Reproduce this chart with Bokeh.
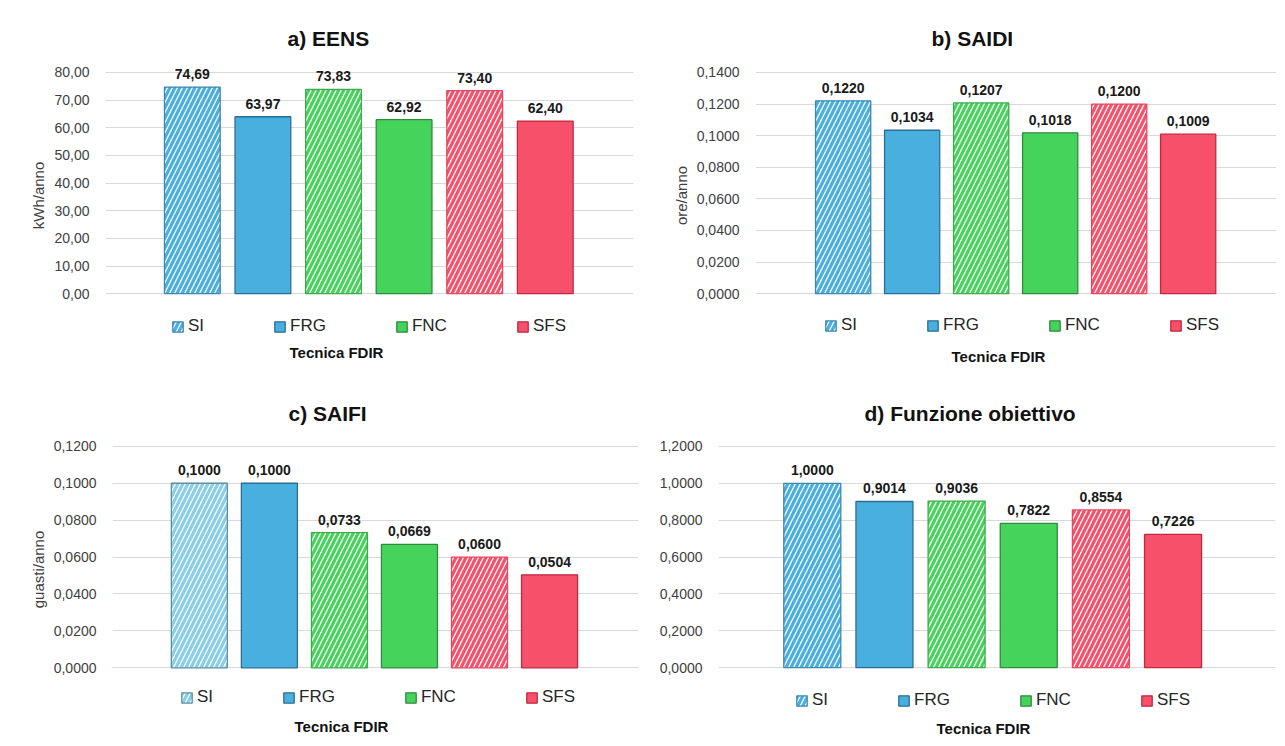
from bokeh.plotting import figure
from bokeh.models import (ColumnDataSource, FixedTicker, CustomJSTickFormatter,
                          Legend, LegendItem, Title, Range1d)
from bokeh.layouts import column, row
from bokeh.embed import file_html
from bokeh.resources import INLINE
from bokeh.core.properties import value

# ---------------- data ----------------
bar_names = ["SI", "FRG", "FNC (tratteggiato)", "FNC", "SFS (tratteggiato)", "SFS"]
bar_hatched = [True, False, True, False, True, False]
legend_names = ["SI", "FRG", "FNC", "SFS"]
legend_bars = [0, 1, 3, 5]

eens = [74.69, 63.97, 73.83, 62.92, 73.40, 62.40]
saidi = [0.1220, 0.1034, 0.1207, 0.1018, 0.1200, 0.1009]
saifi = [0.1000, 0.1000, 0.0733, 0.0669, 0.0600, 0.0504]
fobj = [1.0000, 0.9014, 0.9036, 0.7822, 0.8554, 0.7226]

eens_ticks = [0, 10, 20, 30, 40, 50, 60, 70, 80]
saidi_ticks = [0.0, 0.02, 0.04, 0.06, 0.08, 0.10, 0.12, 0.14]
saifi_ticks = [0.0, 0.02, 0.04, 0.06, 0.08, 0.10, 0.12]
fobj_ticks = [0.0, 0.2, 0.4, 0.6, 0.8, 1.0, 1.2]

x_title = "Tecnica FDIR"

# ---------------- style ----------------
FONT = "Liberation Sans"
BLUE, BLUE_E = "#48AFDF", "#2C6E93"
GREEN, GREEN_E = "#46D35B", "#2E8A3E"
RED, RED_E = "#F6506A", "#BF2940"
fills = [BLUE, BLUE, GREEN, GREEN, RED, RED]
edges = [BLUE_E, BLUE_E, GREEN_E, GREEN_E, RED_E, RED_E]
hatch_edges = ["#3F86B0", None, "#3DAA4C", None, "#E2485F", None]

PAD_TOP = 20     # px of frame above the top gridline
PAD_BOT = 45     # px of frame below the zero line (legend zone)


def panel(values, ticks, decimals, title, ylabel, w, h, left, right, top_px, zero_px,
          x0, x1, bar_w, title_off, title_so, xt_off, xt_so, leg_x, leg_y,
          si_hatch=BLUE, si_edge="#3F86B0"):
    span = zero_px - top_px
    ymax = ticks[-1]
    ppu = span / ymax
    y0 = -PAD_BOT / ppu
    y1 = ymax + PAD_TOP / ppu
    p = figure(width=w, height=h, output_backend="svg", toolbar_location=None,
               x_range=Range1d(x0, x1), y_range=Range1d(y0, y1),
               x_axis_location=None,
               min_border_left=left, min_border_right=right,
               min_border_top=top_px - PAD_TOP,
               min_border_bottom=h - zero_px - PAD_BOT,
               outline_line_color=None, background_fill_color="white",
               border_fill_color="white")
    p.title.text = title
    p.title.align = "left"
    p.title.vertical_align = "middle"
    p.title.offset = title_off
    p.title.standoff = title_so
    p.title.text_font = FONT
    p.title.text_font_size = "21px"
    p.title.text_font_style = "bold"
    p.title.text_color = "#111111"

    xs = list(range(len(values)))
    rends = []
    for i, v in enumerate(values):
        src = ColumnDataSource(dict(x=[xs[i]], top=[v], name=[bar_names[i]]))
        if bar_hatched[i]:
            hc = si_hatch if i == 0 else fills[i]
            ec = si_edge if i == 0 else hatch_edges[i]
            r = p.vbar(x="x", top="top", width=bar_w, source=src, fill_color="white",
                       hatch_pattern="/", hatch_color=hc, hatch_scale=10,
                       hatch_weight=3.2, line_color=ec, line_width=1.3)
        else:
            r = p.vbar(x="x", top="top", width=bar_w, source=src, fill_color=fills[i],
                       line_color=edges[i], line_width=1.3)
        rends.append(r)

    labels = [f"{v:.{decimals}f}".replace(".", ",") for v in values]
    lsrc = ColumnDataSource(dict(x=xs, y=values, t=labels))
    p.text(x="x", y="y", text="t", source=lsrc, text_align="center",
           text_baseline="bottom", y_offset=-8, text_font=value(FONT),
           text_font_style="bold", text_font_size="14px", text_color="#1a1a1a")

    ax = p.yaxis[0]
    ax.ticker = FixedTicker(ticks=ticks)
    ax.formatter = CustomJSTickFormatter(
        code=f"return tick.toFixed({decimals}).replace('.', ',');")
    ax.axis_line_color = None
    ax.major_tick_line_color = None
    ax.minor_tick_line_color = None
    ax.major_label_standoff = 10
    ax.major_label_text_font = FONT
    ax.major_label_text_font_size = "14px"
    ax.major_label_text_color = "#404040"
    if ylabel:
        ax.axis_label = ylabel
        ax.axis_label_text_font = FONT
        ax.axis_label_text_font_size = "15px"
        ax.axis_label_text_font_style = "normal"
        ax.axis_label_text_color = "#404040"
        ax.axis_label_standoff = 4
    p.xgrid.visible = False
    p.ygrid.grid_line_color = "#D9D9D9"
    p.ygrid.grid_line_width = 1

    items = [LegendItem(label=legend_names[k], renderers=[rends[b]])
             for k, b in enumerate(legend_bars)]
    leg = Legend(items=items, orientation="horizontal", location=(leg_x, leg_y),
                 spacing=69, glyph_width=13, glyph_height=13, label_standoff=4,
                 label_width=16, label_height=20, padding=0, margin=0,
                 label_text_font=FONT, label_text_font_size="17px",
                 label_text_color="#262626", border_line_color=None,
                 background_fill_alpha=0)
    p.add_layout(leg, "center")

    p.add_layout(Title(text=x_title, align="left", offset=xt_off, standoff=xt_so,
                       text_font=FONT, text_font_size="15px", text_font_style="bold",
                       text_color="#111111"), "below")
    return p


pa = panel(eens, eens_ticks, 2, "a) EENS", "kWh/anno", 640, 372, 105, 7, 72, 294,
           -1.23, 6.25, 0.79, 182, 4, 184, 7, 66, 2)
pb = panel(saidi, saidi_ticks, 4, "b) SAIDI", "ore/anno", 645, 372, 115, 9, 72, 294,
           -1.27, 6.28, 0.80, 176, 4, 196, 15, 69, 3)
pc = panel(saifi, saifi_ticks, 4, "c) SAIFI", "guasti/anno", 640, 374, 112, 2, 72, 295,
           -1.24, 6.27, 0.80, 176, 2, 182, 7, 68, 5,
           si_hatch="#86CFE6", si_edge="#5E8EA6")
pd = panel(fobj, fobj_ticks, 4, "d) Funzione obiettivo", None, 645, 374, 78, 10, 74, 296,
           -1.30, 6.42, 0.79, 146, 2, 218, 11, 77, 2)

layout = column(row(pa, pb), row(pc, pd))
open("out.html", "w").write(file_html(layout, INLINE))
